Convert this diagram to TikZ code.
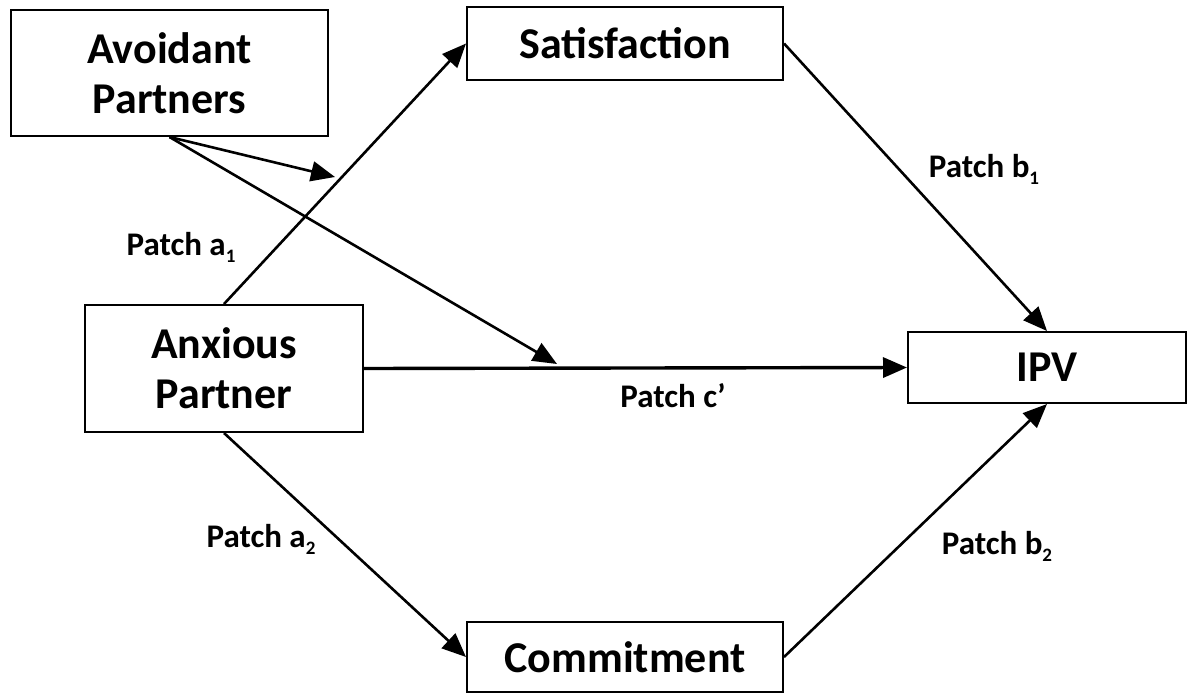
\documentclass[tikz,border=0pt]{standalone}
\usepackage{fontspec}
\setmainfont{Carlito}
\usetikzlibrary{arrows.meta}
\newcommand{\lbsub}[1]{\raisebox{-7pt}{\fontsize{19}{19}\selectfont #1}}
\tikzset{
  box/.style={draw, line width=2pt, inner sep=0pt, align=center, font=\fontsize{44}{50}\selectfont\bfseries},
  conn/.style={line width=2.6pt, -{Triangle[length=24pt,width=20pt]}},
  lbl/.style={inner sep=0pt, font=\fontsize{33}{36}\selectfont\bfseries}
}
\begin{document}
\begin{tikzpicture}[x=1pt,y=-1pt]
\useasboundingbox (0,0) rectangle (1188,693);
\node[box, minimum width=317pt, minimum height=126pt] (avoid) at (169.5,73) {Avoidant\\Partners};
\node[box, minimum width=316pt, minimum height=73pt] (sat) at (625,43.5) {Satisfaction};
\node[box, minimum width=278pt, minimum height=127pt] (anx) at (224,368.5) {Anxious\\Partner};
\node[box, minimum width=278pt, minimum height=71pt] (ipv) at (1047,367.5) {IPV};
\node[box, minimum width=316pt, minimum height=70pt] (com) at (625,657) {Commitment};
\coordinate (m1) at (335,177);
\coordinate (m2) at (557,364);
\draw[conn] (anx.north) -- (sat.west);
\draw[conn] (sat.east) -- (ipv.north);
\draw[conn] (anx.south) -- (com.west);
\draw[conn] (com.east) -- (ipv.south);
\draw[conn, line width=3.4pt] (anx.east) -- (ipv.west);
\draw[conn] (avoid.south) -- (m1);
\draw[conn] (avoid.south) -- (m2);
\node[lbl] (la1) at (181,247) {Patch a\lbsub{1}};
\node[lbl] (lb1) at (984,169) {Patch b\lbsub{1}};
\node[lbl] (lc) at (673,396) {Patch c’};
\node[lbl] (la2) at (261,539) {Patch a\lbsub{2}};
\node[lbl] (lb2) at (997,546) {Patch b\lbsub{2}};
\end{tikzpicture}
\end{document}
